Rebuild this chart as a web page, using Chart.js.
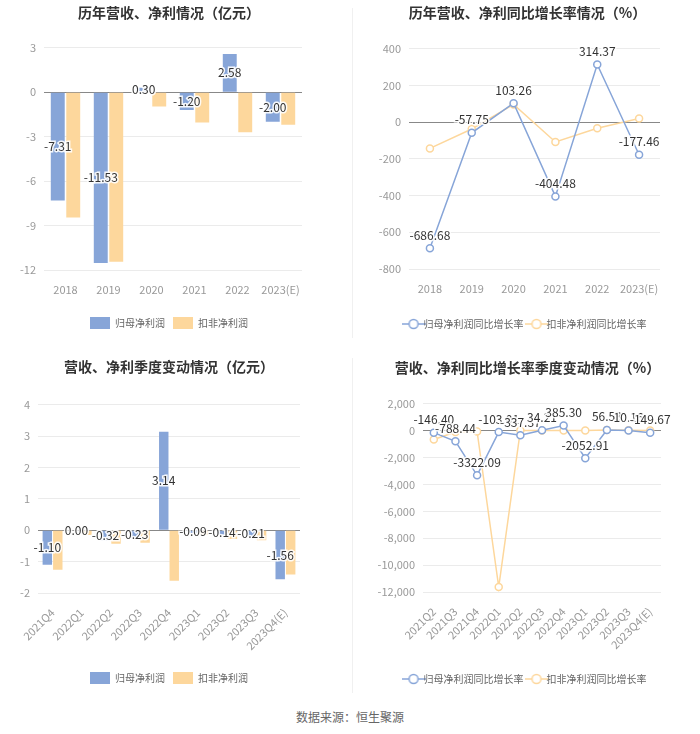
<!DOCTYPE html>
<html>
<head>
<meta charset="utf-8">
<script src="https://cdn.jsdelivr.net/npm/chart.js@4.4.1/dist/chart.umd.min.js"></script>
<style>
  body{margin:0;background:#fff;width:700px;height:734px;position:relative;overflow:hidden;
    font-family:"Noto Sans CJK SC","Noto Sans",sans-serif;}
  .panel{position:absolute;}
  .sep{position:absolute;left:352px;width:1px;background:#f0f0f0;}
  .src{position:absolute;left:0;width:700px;top:708px;text-align:center;font-size:12px;color:#666;}
</style>
</head>
<body>
<div class="sep" style="top:8px;height:330px"></div>
<div class="sep" style="top:358px;height:335px"></div>
<div class="panel" style="left:0;top:0"><canvas id="c1" width="338" height="345"></canvas></div>
<div class="panel" style="left:355px;top:0"><canvas id="c2" width="345" height="345"></canvas></div>
<div class="panel" style="left:0;top:350px"><canvas id="c3" width="338" height="350"></canvas></div>
<div class="panel" style="left:355px;top:350px"><canvas id="c4" width="345" height="350"></canvas></div>
<div class="src">数据来源：恒生聚源</div>
<script>
// ---- data ----
const yearLabels = ["2018", "2019", "2020", "2021", "2022", "2023(E)"];
const yearNetProfit = [-7.31, -11.53, 0.30, -1.20, 2.58, -2.00];
const yearDeductedProfit = [-8.46, -11.45, -0.96, -2.04, -2.70, -2.20];
const yearNetGrowth = [-686.68, -57.75, 103.26, -404.48, 314.37, -177.46];
const yearDeductedGrowth = [-143, -37, 97, -108, -33, 20];

const quarterLabels = ["2021Q4", "2022Q1", "2022Q2", "2022Q3", "2022Q4", "2023Q1", "2023Q2", "2023Q3", "2023Q4(E)"];
const quarterNetProfit = [-1.10, 0.00, -0.32, -0.23, 3.14, -0.09, -0.14, -0.21, -1.56];
const quarterDeductedProfit = [-1.26, -0.15, -0.43, -0.40, -1.61, -0.15, -0.28, -0.32, -1.41];

const growthQuarterLabels = ["2021Q2", "2021Q3", "2021Q4", "2022Q1", "2022Q2", "2022Q3", "2022Q4", "2023Q1", "2023Q2", "2023Q3", "2023Q4(E)"];
const quarterNetGrowth = [-146.40, -788.44, -3322.09, -103.01, -337.37, 34.21, 385.30, -2052.91, 56.53, 10.16, -149.67];
const quarterDeductedGrowth = [-650, -100, -60, -11630, 20, 10, 5, 5, 60, 30, 10];

const netName = "归母净利润", dedName = "扣非净利润";
const netGrowthName = "归母净利润同比增长率", dedGrowthName = "扣非净利润同比增长率";

const BLUE = "#87a5d8", ORANGE = "#fdd79c";
const FONT = "'Noto Sans CJK SC','Noto Sans',sans-serif";

// value labels for the first series
const valueLabels = {
  id: "valueLabels",
  afterDatasetsDraw(chart){
    const ctx = chart.ctx;
    const meta = chart.getDatasetMeta(0);
    const data = chart.data.datasets[0].data;
    const isBar = chart.config.type === "bar";
    ctx.save();
    ctx.font = "12px " + FONT;
    ctx.textAlign = "center";
    ctx.textBaseline = "middle";
    meta.data.forEach((el, i) => {
      const txt = data[i].toFixed(2);
      let x = el.x, y;
      if(isBar) y = (el.y + el.base) / 2;
      else y = el.y - 13;
      ctx.lineWidth = 3;
      ctx.strokeStyle = "rgba(255,255,255,0.9)";
      ctx.strokeText(txt, x, y);
      ctx.fillStyle = "#333";
      ctx.fillText(txt, x, y);
    });
    ctx.restore();
  }
};

// legend icon like "-o-"
function lineIcon(color){
  const c = document.createElement("canvas");
  c.width = 24; c.height = 12;
  const g = c.getContext("2d");
  g.strokeStyle = color; g.lineWidth = 1.5;
  g.beginPath(); g.moveTo(0, 6); g.lineTo(24, 6); g.stroke();
  g.fillStyle = "#fff";
  g.beginPath(); g.arc(12, 6, 4.5, 0, Math.PI * 2); g.fill(); g.stroke();
  return c;
}

function gridColor(c){
  return (c.tick && c.tick.value === 0) ? "#888" : "#ebebeb";
}

function baseOptions(opt){
  return {
    responsive: false,
    animation: false,
    layout: { padding: { left: 0, right: 0, top: 0, bottom: opt.padBottom } },
    plugins: {
      title: {
        display: true, text: opt.title, color: "#333",
        font: { size: 14, weight: "bold", family: FONT },
        padding: { top: opt.titleTop, bottom: opt.titleBottom }
      },
      legend: {
        position: "bottom",
        labels: opt.legendLabels
      },
      tooltip: { enabled: false }
    },
    scales: {
      x: {
        offset: true,
        grid: { display: false },
        border: { display: false },
        ticks: {
          color: "#999", font: { size: 11, family: FONT }, padding: 5,
          autoSkip: false, maxRotation: opt.rot, minRotation: opt.rot
        },
        afterFit: s => { s.height = opt.xHeight; }
      },
      y: {
        min: opt.min, max: opt.max,
        grid: { color: gridColor, drawTicks: false },
        border: { display: false },
        ticks: {
          stepSize: opt.step, color: "#999", font: { size: 11, family: FONT }, padding: 8,
          callback: v => opt.comma ? v.toLocaleString("en-US") : v
        },
        afterFit: s => { s.width = opt.yWidth; }
      },
      // empty right gutter so title and legend stay centred on the panel
      gutter: {
        type: "linear", position: "right", display: true,
        grid: { display: false }, border: { display: false },
        ticks: { display: false },
        afterFit: s => { s.width = opt.padRight; }
      }
    }
  };
}

const barLegend = {
  boxWidth: 20, boxHeight: 12, padding: 8, color: "#666",
  font: { size: 10, family: FONT }
};

const lineLegend = {
  usePointStyle: true, padding: 8, color: "#666",
  font: { size: 10, family: FONT },
  generateLabels(chart){
    const items = Chart.defaults.plugins.legend.labels.generateLabels(chart);
    items.forEach(it => { it.pointStyle = lineIcon(chart.data.datasets[it.datasetIndex].borderColor); });
    return items;
  }
};

function barSets(a, b){
  return [
    { label: netName, data: a, backgroundColor: BLUE, categoryPercentage: 0.72, barPercentage: 0.9 },
    { label: dedName, data: b, backgroundColor: ORANGE, categoryPercentage: 0.72, barPercentage: 0.9 }
  ];
}

function lineSets(a, b){
  const s = (label, data, color) => ({
    label, data, borderColor: color, backgroundColor: "#fff",
    borderWidth: 1.5, pointRadius: 3.5, pointBorderWidth: 1.5,
    pointBackgroundColor: "#fff", pointBorderColor: color, tension: 0
  });
  return [s(netGrowthName, a, BLUE), s(dedGrowthName, b, ORANGE)];
}

new Chart(document.getElementById("c1"), {
  type: "bar",
  data: { labels: yearLabels, datasets: barSets(yearNetProfit, yearDeductedProfit) },
  options: baseOptions({ title: "历年营收、净利情况（亿元）", titleTop: 4, titleBottom: 27,
    padRight: 36, padBottom: 6, xHeight: 39, yWidth: 44, rot: 0,
    min: -12, max: 3, step: 3, legendLabels: barLegend }),
  plugins: [valueLabels]
});

new Chart(document.getElementById("c2"), {
  type: "line",
  data: { labels: yearLabels, datasets: lineSets(yearNetGrowth, yearDeductedGrowth) },
  options: baseOptions({ title: "历年营收、净利同比增长率情况（%）", titleTop: 4, titleBottom: 28,
    padRight: 40, padBottom: 6, xHeight: 42, yWidth: 54, rot: 0,
    min: -800, max: 400, step: 200, legendLabels: lineLegend }),
  plugins: [valueLabels]
});

new Chart(document.getElementById("c3"), {
  type: "bar",
  data: { labels: quarterLabels, datasets: barSets(quarterNetProfit, quarterDeductedProfit) },
  options: baseOptions({ title: "营收、净利季度变动情况（亿元）", titleTop: 8, titleBottom: 30,
    padRight: 38, padBottom: 6, xHeight: 71, yWidth: 38, rot: 45,
    min: -2, max: 4, step: 1, legendLabels: barLegend }),
  plugins: [valueLabels]
});

new Chart(document.getElementById("c4"), {
  type: "line",
  data: { labels: growthQuarterLabels, datasets: lineSets(quarterNetGrowth, quarterDeductedGrowth) },
  options: baseOptions({ title: "营收、净利同比增长率季度变动情况（%）", titleTop: 9, titleBottom: 28,
    padRight: 39, padBottom: 6, xHeight: 74, yWidth: 68, rot: 45, comma: true,
    min: -12000, max: 2000, step: 2000, legendLabels: lineLegend }),
  plugins: [valueLabels]
});
</script>
</body>
</html>
